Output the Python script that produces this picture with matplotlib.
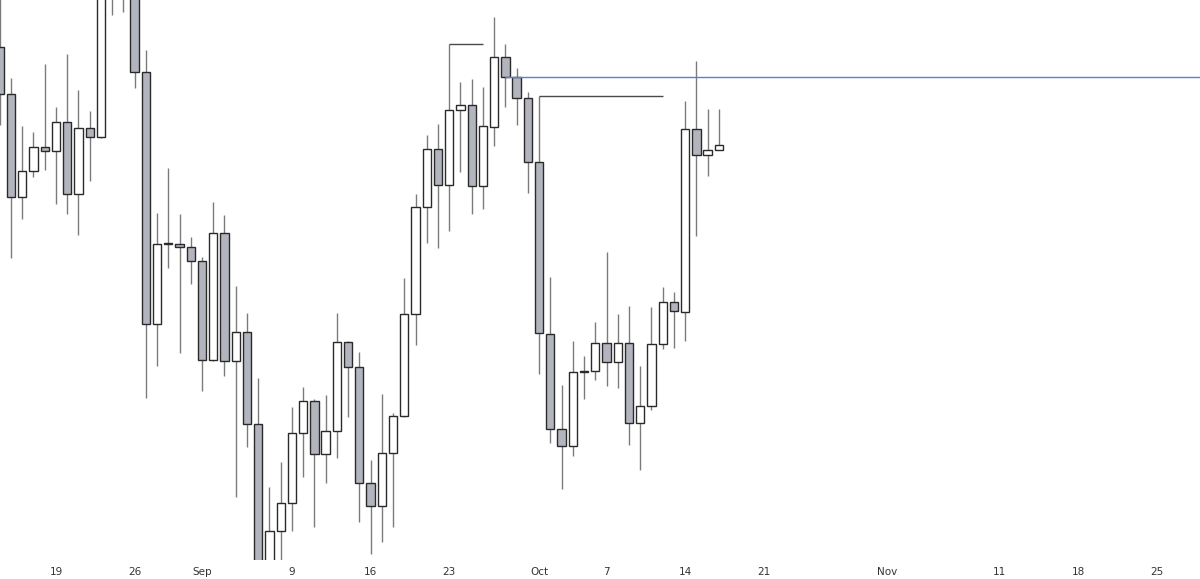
import matplotlib
matplotlib.use("Agg")
import matplotlib.pyplot as plt
import matplotlib.dates as mdates
import pandas as pd

# daily candles, Aug 14 -> Oct 17 2024 (arbitrary price units)
dates = pd.date_range("2024-08-14", "2024-10-17", freq="D")

opens = [553, 506, 403, 429, 453, 449, 478, 406, 472, 463, 660, 645, 650, 528,
         276, 356, 356, 353, 339, 240, 367, 239, 268, 176, 5, 69, 97, 167,
         199, 146, 169, 258, 233, 117, 94, 147, 184, 286, 393, 451, 415, 490,
         495, 414, 473, 543, 523, 502, 438, 266, 171, 154, 228, 229, 257, 238,
         257, 177, 194, 256, 298, 288, 471, 445, 450]
highs = [620, 522, 474, 468, 536, 493, 546, 510, 489, 680, 695, 685, 670, 550,
         387, 432, 386, 363, 343, 398, 385, 314, 287, 222, 113, 138, 193, 213,
         201, 205, 287, 259, 248, 140, 206, 187, 322, 406, 465, 476, 556, 518,
         521, 513, 583, 556, 532, 508, 504, 323, 215, 259, 244, 278, 348, 286,
         294, 234, 293, 313, 308, 499, 539, 491, 491]
lows = [475, 342, 381, 423, 430, 396, 386, 365, 419, 462, 585, 588, 512, 202,
        234, 332, 247, 316, 209, 239, 224, 103, 153, -20, -15, 15, 69, 123,
        73, 117, 142, 183, 78, 46, 58, 73, 183, 255, 357, 352, 369, 428,
        386, 391, 454, 493, 475, 407, 226, 157, 111, 144, 201, 220, 214, 212,
        155, 130, 190, 251, 252, 259, 364, 424, 450]
closes = [506, 403, 429, 453, 449, 478, 406, 472, 463, 660, 645, 650, 528, 276,
          356, 356, 353, 339, 240, 367, 239, 268, 176, 0, 69, 97, 167, 199,
          146, 169, 258, 233, 117, 94, 147, 184, 286, 393, 451, 415, 490, 495,
          414, 474, 543, 523, 502, 438, 267, 171, 154, 228, 229, 257, 238, 257,
          177, 194, 256, 298, 289, 471, 445, 450, 455]

# drawn levels: (price, start, end)
level_lines = [(556, "2024-09-23", "2024-09-26"),
               (504, "2024-10-01", "2024-10-12")]
blue_level = 523
blue_start = "2024-09-28"

tick_dates = ["2024-08-19", "2024-08-26", "2024-09-01", "2024-09-09", "2024-09-16",
              "2024-09-23", "2024-10-01", "2024-10-07", "2024-10-14", "2024-10-21",
              "2024-11-01", "2024-11-11", "2024-11-18", "2024-11-25"]
tick_labels = ["19", "26", "Sep", "9", "16", "23", "Oct", "7", "14", "21",
               "Nov", "11", "18", "25"]

UP_FILL = "#ffffff"
DOWN_FILL = "#b2b5be"
EDGE = "#2a2a2a"
WICK = "#7b7b7b"


def main():
    fig = plt.figure(figsize=(12, 5.79), dpi=100)
    ax = fig.add_axes([0, 19 / 579, 1, 560 / 579])

    x = mdates.date2num(dates)

    # wicks first so the bodies sit on top
    ax.vlines(x, lows, highs, color=WICK, linewidth=1.0, zorder=1)

    for xi, o, c in zip(x, opens, closes):
        lo, hi = min(o, c), max(o, c)
        h = max(hi - lo, 0.6)
        fill = UP_FILL if c >= o else DOWN_FILL
        ax.bar(xi, h, bottom=lo, width=0.74, color=fill, edgecolor=EDGE,
               linewidth=1.0, zorder=2)

    for price, start, end in level_lines:
        ax.hlines(price, mdates.date2num(pd.Timestamp(start)),
                  mdates.date2num(pd.Timestamp(end)), color="#4a4a4a",
                  linewidth=1.0, zorder=3)

    x0 = mdates.date2num(pd.Timestamp("2024-08-19"))
    ax.set_xlim(x0 - 4.98, x0 + 101.82)
    ax.set_ylim(40, 600)

    ax.hlines(blue_level, mdates.date2num(pd.Timestamp(blue_start)), x0 + 102,
              color="#5a7fd4", linewidth=1.0, zorder=3)

    ax.set_xticks([mdates.date2num(pd.Timestamp(d)) for d in tick_dates])
    ax.set_xticklabels(tick_labels)
    ax.tick_params(axis="x", length=0, pad=5, labelsize=7.5, labelcolor="#333333")
    ax.set_yticks([])
    for s in ax.spines.values():
        s.set_visible(False)

    fig.savefig("out.png", dpi=100, facecolor="white")


if __name__ == "__main__":
    main()
